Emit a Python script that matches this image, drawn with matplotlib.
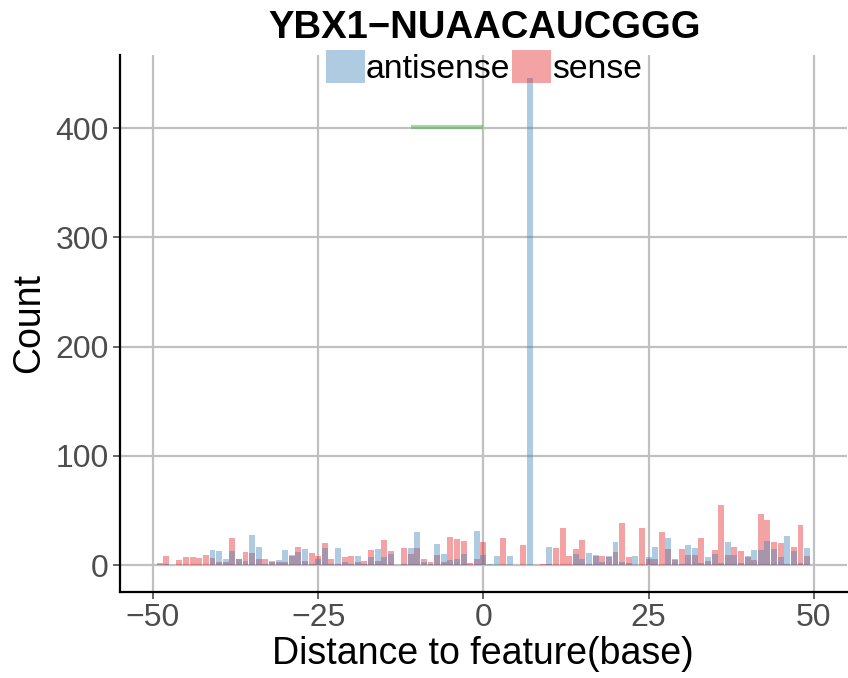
import matplotlib
matplotlib.use("Agg")
import matplotlib.pyplot as plt
from matplotlib.patches import Patch

plt.rcParams["font.family"] = ["Liberation Sans", "DejaVu Sans"]

title = "YBX1\u2212NUAACAUCGGG"
positions = list(range(-50, 51))
# counts per position, -50 .. 50
antisense = [0, 0, 1, 0, 0, 0, 0, 0, 0, 13.7, 12.8, 5.5, 12.8, 5.5, 3.7, 27.4, 16.5, 1, 3.7, 4.6,
             13.7, 9.1, 11.9, 14.6, 1, 5.5, 15.5, 1, 15.5, 2.7, 1, 8.2, 1, 7.3, 14.6, 7.3, 10, 0, 1, 15.5,
             30, 2.7, 1, 19, 10, 4.6, 5.5, 10, 0, 31, 9,
             1, 8.2, 0, 8.2, 0, 0, 446, 0, 0, 16.5, 0, 0, 0, 10, 5.5, 11, 9.1, 2.7, 8.2, 21,
             2.7, 1.8, 8.2, 0, 7.3, 16.5, 0, 24.7, 4.6, 1, 18.3, 15.5, 1.8, 7.3, 10, 1.8, 21, 9.1, 1.8, 8.2,
             13.7, 13.7, 22, 14.6, 7.3, 26.5, 12.8, 1.8, 15.5, 0]
sense = [0, 2, 8.2, 0, 4.6, 8, 8, 7, 9, 7, 2.7, 2.7, 24.7, 5.5, 11.9, 11, 5.5, 5.5, 2.7, 2.7,
         2.7, 8.2, 16.5, 3.7, 11, 8.2, 20, 5.5, 1, 7.3, 8.2, 2.7, 3.7, 13.7, 3.7, 22.9, 12.8, 0, 15.5, 10,
         15.5, 5.5, 2.7, 9, 2.7, 25.6, 23.8, 22, 1.8, 5.5, 21,
         0, 0, 24.7, 0, 0, 18.3, 0, 0, 1, 1, 15.5, 33.8, 8.2, 14.6, 22.9, 1, 8.2, 8.2, 7.3, 12,
         38.4, 7.3, 0, 33.8, 5.5, 5.5, 30.2, 14.6, 5.5, 14.6, 9.1, 9.1, 24.7, 3.7, 13.7, 54.9, 9.1, 16.5, 12.8, 7.3,
         4.6, 46.6, 41, 21, 20, 1, 16.5, 36.6, 8.2, 0]
feature_start, feature_end, feature_y = -11, 0, 401
x_ticks = [-50, -25, 0, 25, 50]
y_ticks = [0, 100, 200, 300, 400]

fig = plt.figure(figsize=(8.48, 6.78), dpi=100)
ax = fig.add_axes([0.1415, 0.1268, 0.857, 0.7922])

blue = "#377EB8"
red = "#E41A1C"
ax.bar(positions, sense, width=0.9, color=red, alpha=0.4, zorder=2)
ax.bar(positions, antisense, width=0.9, color=blue, alpha=0.4, zorder=2)
ax.plot([feature_start, feature_end], [feature_y, feature_y], color="#4DAF4A", alpha=0.5, lw=3, zorder=2,
        solid_capstyle="butt")

ax.set_xlim(-55, 55)
ax.set_ylim(-24.5, 467)
ax.set_xticks(x_ticks)
ax.set_yticks(y_ticks)
ax.set_xticklabels([str(v).replace("-", "\u2212") for v in x_ticks])
ax.grid(True, color="#C0C0C0", lw=1.6, zorder=0)
ax.set_axisbelow(True)
for s in ["top", "right"]:
    ax.spines[s].set_visible(False)
for s in ["left", "bottom"]:
    ax.spines[s].set_color("black")
    ax.spines[s].set_linewidth(1.6)
ax.tick_params(axis="both", labelsize=23, labelcolor="#4D4D4D", color="#4D4D4D", length=5, width=1.2, pad=3)
ax.set_xlabel("Distance to feature(base)", fontsize=27, labelpad=2)
ax.set_ylabel("Count", fontsize=27, labelpad=6)

fig.text(0.572, 0.959, title, fontsize=27.5, fontweight="bold", ha="center", va="center")
handles = [Patch(facecolor=blue, alpha=0.4, edgecolor="none"),
           Patch(facecolor=red, alpha=0.4, edgecolor="none")]
leg = ax.legend(handles, ["antisense", "sense"], loc="center", bbox_to_anchor=(0.501, 0.977), ncol=2,
                frameon=False, fontsize=24.3, handlelength=1.15, handleheight=1.15,
                handletextpad=0.03, columnspacing=0.05, borderaxespad=0, borderpad=0)

fig.savefig("out.png", dpi=100)
